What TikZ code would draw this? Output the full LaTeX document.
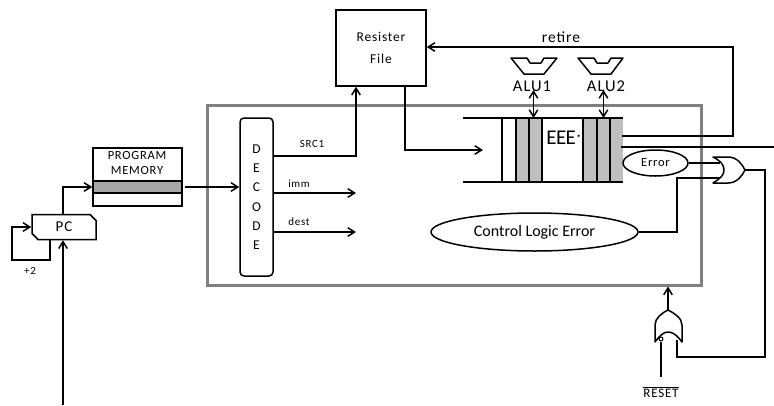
\documentclass[tikz,border=0pt]{standalone}
\usepackage{fontspec}
\setmainfont[LetterSpace=6]{Carlito}
\usetikzlibrary{arrows.meta,positioning,calc,shapes.geometric,shapes.misc}
\definecolor{ink}{HTML}{000000}
\definecolor{framegray}{HTML}{808080}
\definecolor{bandgray}{HTML}{A6A6A6}
\definecolor{stagegray}{HTML}{BFBFBF}
\begin{document}
\begin{tikzpicture}[
  x=1pt, y=-1pt,
  box/.style={draw=ink, line width=1.5pt, fill=white, align=center, inner sep=0pt, font=\fontsize{13.5}{22}\selectfont},
  oval/.style={draw=ink, line width=1.5pt, fill=white, ellipse, inner sep=0pt, align=center},
  lab/.style={font=\fontsize{11}{12}\selectfont, inner sep=0pt},
  alulab/.style={font=\fontsize{16.5}{17}\selectfont, inner sep=0pt},
  arr/.style={-{Straight Barb[length=2.4mm,width=3mm]}, draw=ink, line width=1.5pt},
  wire/.style={draw=ink, line width=1.5pt},
  dbl/.style={{Straight Barb[length=2.4mm,width=3mm]}-{Straight Barb[length=2.4mm,width=3mm]}, draw=ink, line width=1.5pt},
  gate/.style={draw=ink, line width=1.5pt, fill=white, line join=round},
  stage/.style={fill=stagegray, draw=none},
]
\useasboundingbox (0,0) rectangle (774,405);
\node[draw=framegray, line width=3pt, minimum width=494pt, minimum height=180pt, inner sep=0pt] (frame) at (454,195) {};
\node[box, minimum width=90pt, minimum height=76pt] (regfile) at (381,48) {Resister\\File};
\node[box, rounded corners=4pt, minimum width=33pt, minimum height=158pt] (decode) at (256.5,197) {\raisebox{-3pt}{\shortstack{D\\[7.5pt]E\\[7.5pt]C\\[7.5pt]O\\[7.5pt]D\\[7.5pt]E}}};
\node[box, minimum width=89pt, minimum height=58pt] (progmem) at (137.5,177) {};
\node[draw=ink, line width=1.5pt, fill=bandgray, minimum width=89pt, minimum height=12pt, inner sep=0pt] (band) at (137.5,187) {};
\node[lab, font=\fontsize{12.5}{15}\selectfont, align=center] (progtext) at (137,162.5) {PROGRAM\\MEMORY};
\node[box, chamfered rectangle, chamfered rectangle corners={north east,south west}, chamfered rectangle xsep=3pt, chamfered rectangle ysep=3pt, minimum width=64pt, minimum height=25pt, font=\fontsize{15}{16}\selectfont] (pc) at (64,227) {PC};
\node[lab] (plustwo) at (30,271) {+2};
\coordinate (pcin) at (63,405);
\coordinate (pcloop) at (50,239);
\coordinate (pcloopa) at (50,260);
\coordinate (pcloopb) at (12,260);
\coordinate (pcout) at (63,214);
\draw[arr] (pcin) -- (pcin |- pc.south);
\draw[arr] (pcloop) -- (pcloopa) -- (pcloopb) |- (pc.west);
\draw[arr] (pcout) |- (band.west);
\coordinate (pmout) at (185,187);
\draw[arr] (pmout) -- (pmout -| decode.west);
\coordinate (srcout) at (273,156);
\coordinate (immout) at (273,193);
\coordinate (dstout) at (273,232);
\coordinate (immend) at (356,193);
\coordinate (dstend) at (356,232);
\coordinate (srcup) at (356,156);
\node[lab] (srclab) at (312,144) {SRC1};
\node[lab] (immlab) at (299,184) {imm};
\node[lab] (dstlab) at (299,222) {dest};
\draw[arr] (srcout) -- (srcup) -- (srcup |- regfile.south);
\draw[arr] (immout) -- (immend);
\draw[arr] (dstout) -- (dstend);
\fill[stage] (516,118) rectangle (542,182);
\fill[stage] (583,118) rectangle (623,182);
\coordinate (stagetl) at (463,118);
\coordinate (stagetr) at (623,118);
\coordinate (stagebl) at (463,182);
\coordinate (stagebr) at (623,182);
\draw[wire] (stagetl) -- (stagetr);
\draw[wire] (stagebl) -- (stagebr);
\foreach \x in {502,516,529,542,583,597,610} {
  \draw[wire] (\x,118) -- (\x,182);
}
\node[inner sep=0pt, font=\fontsize{21}{21}\selectfont\addfontfeature{LetterSpace=-3}] (eee) at (564,138) {EEE\raisebox{3pt}{$\cdot$}};
\coordinate (regout) at (405,86);
\coordinate (regturn) at (405,150);
\coordinate (stagein) at (483,150);
\draw[arr] (regout) -- (regturn) -- (stagein);
\coordinate (retirea) at (622,136);
\coordinate (retireb) at (733,136);
\coordinate (retirec) at (733,47);
\draw[arr] (retirea) -- (retireb) -- (retirec) -- (retirec -| regfile.east);
\node[lab, font=\fontsize{15.5}{16}\selectfont] (retirelab) at (561,37) {retire};
\coordinate (stuba) at (621,147);
\coordinate (stubb) at (774,147);
\draw[wire] (stuba) -- (stubb);
\draw[gate] (511,58) -- (527,58) -- (530,63) -- (541,63) -- (544,58) -- (557,58) -- (544,74) -- (524,74) -- cycle;
\draw[gate] (578,58) -- (594,58) -- (597,63) -- (608,63) -- (611,58) -- (623,58) -- (611,74) -- (591,74) -- cycle;
\node[alulab] (alua) at (532,86) {ALU1};
\node[alulab] (alub) at (606,86) {ALU2};
\coordinate (alualine) at (533.5,90);
\coordinate (aluxline) at (603.5,90);
\draw[dbl] (alualine) -- (alualine |- stagetl);
\draw[dbl] (aluxline) -- (aluxline |- stagetl);
\node[oval, minimum width=65pt, minimum height=26pt, font=\fontsize{12.5}{13}\selectfont] (err) at (655.5,163) {Error};
\node[oval, minimum width=207pt, minimum height=38pt, font=\fontsize{16}{17}\selectfont\addfontfeature{LetterSpace=0}] (ctrl) at (534.5,232) {Control Logic Error};
\coordinate (orain) at (720,163);
\coordinate (orbin) at (720,178);
\coordinate (orbup) at (677,178);
\coordinate (orout) at (745,170);
\coordinate (orturn) at (765,170);
\coordinate (orlow) at (765,357);
\coordinate (gatein) at (677,357);
\coordinate (gateup) at (677,340);
\coordinate (gatetip) at (668,310);
\coordinate (resetin) at (661,377);
\draw[wire] (err.east) -- (orain);
\draw[wire] (ctrl.east) -| (orbup) -- (orbin);
\draw[wire] (orout) -- (orturn) -- (orlow) -- (gatein) -- (gateup);
\draw[gate] (713,157) -- (728,157) .. controls (737,157) and (742,164) .. (orout) .. controls (742,176) and (737,183) .. (728,183) -- (713,183) .. controls (721,178) and (724,175) .. (724,170) .. controls (724,165) and (721,161) .. (713,157) -- cycle;
\draw[gate] (655,342) -- (655,325) .. controls (655,318) and (662,313) .. (gatetip) .. controls (674,313) and (682,318) .. (682,325) -- (682,342) .. controls (676,334) and (672,332) .. (668,332) .. controls (664,332) and (660,335) .. (655,342) -- cycle;
\draw[arr] (gatetip) -- (gatetip |- frame.south);
\node[circle, draw=ink, line width=1pt, fill=white, minimum size=4pt, inner sep=0pt] (bubble) at (661,339) {};
\draw[wire] (resetin) -- (bubble);
\node[lab, font=\fontsize{13}{14}\selectfont] (resetlab) at (661,392) {$\overline{\mbox{RESET}}$};
\end{tikzpicture}
\end{document}
